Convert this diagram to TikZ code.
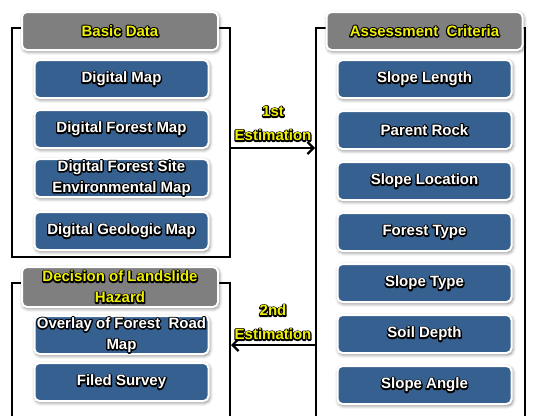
\documentclass[tikz,border=0pt]{standalone}
\usepackage{fontspec}
\setmainfont{Liberation Sans}
\usetikzlibrary{positioning, calc, arrows.meta, shadows.blur}

\definecolor{boxblue}{HTML}{36608F}
\definecolor{headgray}{HTML}{7F7F7F}
\definecolor{headyellow}{HTML}{F0F000}

% outlined labels: a black stroked copy below, the filled text on top
\newcommand{\outl}[2]{\leavevmode\rlap{\special{pdf:literal direct 1 Tr 2.6 w 1 j 0 0 0 RG}#2\special{pdf:literal direct 0 Tr}}\textcolor{#1}{#2}}
\newcommand{\itemtxt}[1]{\outl{white}{#1}}
\newcommand{\headtxt}[1]{\outl{headyellow}{#1}}

\tikzset{
  panel/.style={draw=black, line width=2pt, inner sep=0pt},
  headbox/.style={draw=white, line width=2pt, fill=headgray, rounded corners=5pt,
    minimum width=196pt, minimum height=38pt, inner sep=0pt, align=center,
    font=\fontsize{15}{21}\selectfont\bfseries,
    blur shadow={shadow xshift=1pt, shadow yshift=-1.5pt, shadow blur radius=3.5pt, shadow opacity=55}},
  itembox/.style={headbox, fill=boxblue, minimum width=174pt},
  estlabel/.style={align=center, inner sep=0pt, font=\fontsize{15}{24}\selectfont\bfseries},
}

\begin{document}
\begin{tikzpicture}[x=1pt, y=-1pt]
    \clip (0,0) rectangle (534,415);

    % Panels
    \node[panel, minimum width=218pt, minimum height=229pt] (dataframe) at (121,142.5) {};
    \node[panel, minimum width=218pt, minimum height=150pt] (decframe) at (121,358) {};
    \node[panel, minimum width=209pt, minimum height=405pt] (critframe) at (420.5,230.5) {};

    % Basic data
    \node[headbox] (datahead) at (120,31) {\headtxt{Basic Data}};
    \node[itembox] (dmap) at (121.5,79) {\itemtxt{Digital Map}};
    \node[itembox] (dforest) at (121.5,129) {\itemtxt{Digital Forest Map}};
    \node[itembox] (dsite) at (121.5,178) {\itemtxt{Digital Forest Site}\\\itemtxt{Environmental Map}};
    \node[itembox] (dgeo) at (121.5,231) {\itemtxt{Digital Geologic Map}};

    % Decision
    \node[headbox, minimum height=40pt] (dechead) at (120,287) {\headtxt{Decision of Landslide}\\\headtxt{Hazard}};
    \node[itembox] (overlay) at (121.5,335) {\itemtxt{Overlay of Forest~ Road}\\\itemtxt{Map}};
    \node[itembox] (survey) at (121.5,382) {\itemtxt{Filed Survey}};

    % Assessment criteria
    \node[headbox] (crithead) at (424.5,31) {\headtxt{Assessment~~Criteria}};
    \foreach \name [count=\i from 0] in {Slope Length, Parent Rock, Slope Location,
        Forest Type, Slope Type, Soil Depth, Slope Angle}
        \node[itembox] (crit\i) at (424.5,79+51*\i) {\itemtxt{\name}};

    % Estimation steps
    \coordinate (est1) at (270,148);
    \coordinate (est2) at (270,345);
    \draw[line width=2.2pt, -{Straight Barb[length=6pt, width=12pt]}]
        (est1 -| dataframe.east) -- node[estlabel, above=6pt] (est1lbl)
        {\headtxt{1st}\\\headtxt{Estimation}} (est1 -| critframe.west);
    \draw[line width=2.2pt, -{Straight Barb[length=6pt, width=12pt]}]
        (est2 -| critframe.west) -- node[estlabel, above=4pt] (est2lbl)
        {\headtxt{2nd}\\\headtxt{Estimation}} (est2 -| decframe.east);

\end{tikzpicture}
\end{document}
